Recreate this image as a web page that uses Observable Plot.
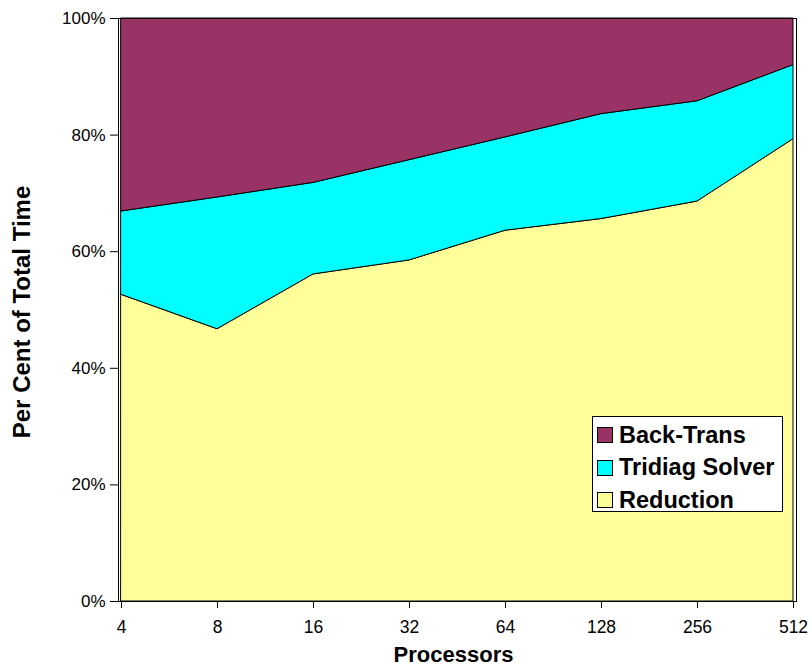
<!DOCTYPE html>
<html>
<head>
<meta charset="utf-8">
<script src="https://cdn.jsdelivr.net/npm/d3@7"></script>
<script src="https://cdn.jsdelivr.net/npm/@observablehq/plot@0.6"></script>
<style>
  html, body { margin: 0; padding: 0; background: #fff; }
  #chart { position: relative; width: 812px; height: 667px; font-family: "Liberation Sans", Arial, sans-serif; }
  #legend {
    position: absolute; left: 592px; top: 416px; width: 189px; height: 94px;
    background: #fff; border: 1px solid #000; box-sizing: content-box;
    font: bold 23.5px "Liberation Sans", Arial, sans-serif; color: #000;
  }
  #legend .row { position: absolute; left: 4px; height: 32px; display: flex; align-items: center; white-space: nowrap; }
  #legend .sw { width: 14px; height: 14px; border: 1px solid #000; margin-right: 6px; flex: none; }
</style>
</head>
<body>
<div id="chart"></div>
<script>
// Processor counts along the x axis
const processors = [4, 8, 16, 32, 64, 128, 256, 512];

// Share of total run time (%) per phase
const reduction = [52.6, 46.7, 56.1, 58.5, 63.6, 65.6, 68.6, 79.3];
const tridiagSolver = [14.3, 22.6, 15.7, 17.2, 16.0, 18.0, 17.2, 12.7];
const backTrans = [33.1, 30.7, 28.2, 24.3, 20.4, 16.4, 14.2, 8.0];

// Stack order, bottom to top, and fills
const seriesNames = ["Reduction", "Tridiag Solver", "Back-Trans"];
const seriesColors = ["#FFFF99", "#00FFFF", "#993366"];
const yTicks = [0, 20, 40, 60, 80, 100];

const seriesValues = [reduction, tridiagSolver, backTrans];
const rows = seriesNames.flatMap((name, i) =>
  processors.map((p, j) => ({processors: p, phase: name, share: seriesValues[i][j]}))
);

const plot = Plot.plot({
  width: 812,
  height: 667,
  marginLeft: 118,
  marginRight: 16,
  marginTop: 18,
  marginBottom: 66,
  style: {fontFamily: "'Liberation Sans', Arial, sans-serif", color: "#000", background: "transparent"},
  x: {type: "point", domain: processors, padding: 0},
  y: {domain: [0, 100]},
  color: {domain: seriesNames, range: seriesColors},
  marks: [
    Plot.areaY(rows, Plot.stackY({
      x: "processors", y: "share", z: "phase", fill: "phase",
      order: seriesNames, stroke: "#000", strokeWidth: 1
    })),
    Plot.frame({stroke: "#000", strokeWidth: 1}),
    Plot.axisY({
      ticks: yTicks, tickFormat: d => d + "%", tickSize: 8, tickPadding: 5,
      fontSize: 17, label: null
    }),
    Plot.axisX({
      tickSize: 7, tickPadding: 12, fontSize: 17.5, label: null
    }),
    Plot.text(["Processors"], {
      frameAnchor: "bottom", dx: -4, dy: 60, fontSize: 22, fontWeight: "bold", fill: "#000"
    }),
    Plot.text(["Per Cent of Total Time"], {
      frameAnchor: "left", textAnchor: "middle", dx: -96, dy: 2, rotate: -90,
      fontSize: 24, fontWeight: "bold", fill: "#000"
    })
  ]
});

const chart = document.getElementById("chart");
chart.appendChild(plot);

// Legend box drawn over the plot, top to bottom in reverse stack order
const legend = d3.select(chart).append("div").attr("id", "legend");
const legendOrder = seriesNames.map((n, i) => ({name: n, color: seriesColors[i]})).reverse();
legend.selectAll(".row")
  .data(legendOrder)
  .join("div")
  .attr("class", "row")
  .style("top", (d, i) => (2 + i * 32.5) + "px")
  .call(row => {
    row.append("div").attr("class", "sw").style("background", d => d.color);
    row.append("span").text(d => d.name);
  });
</script>
</body>
</html>
